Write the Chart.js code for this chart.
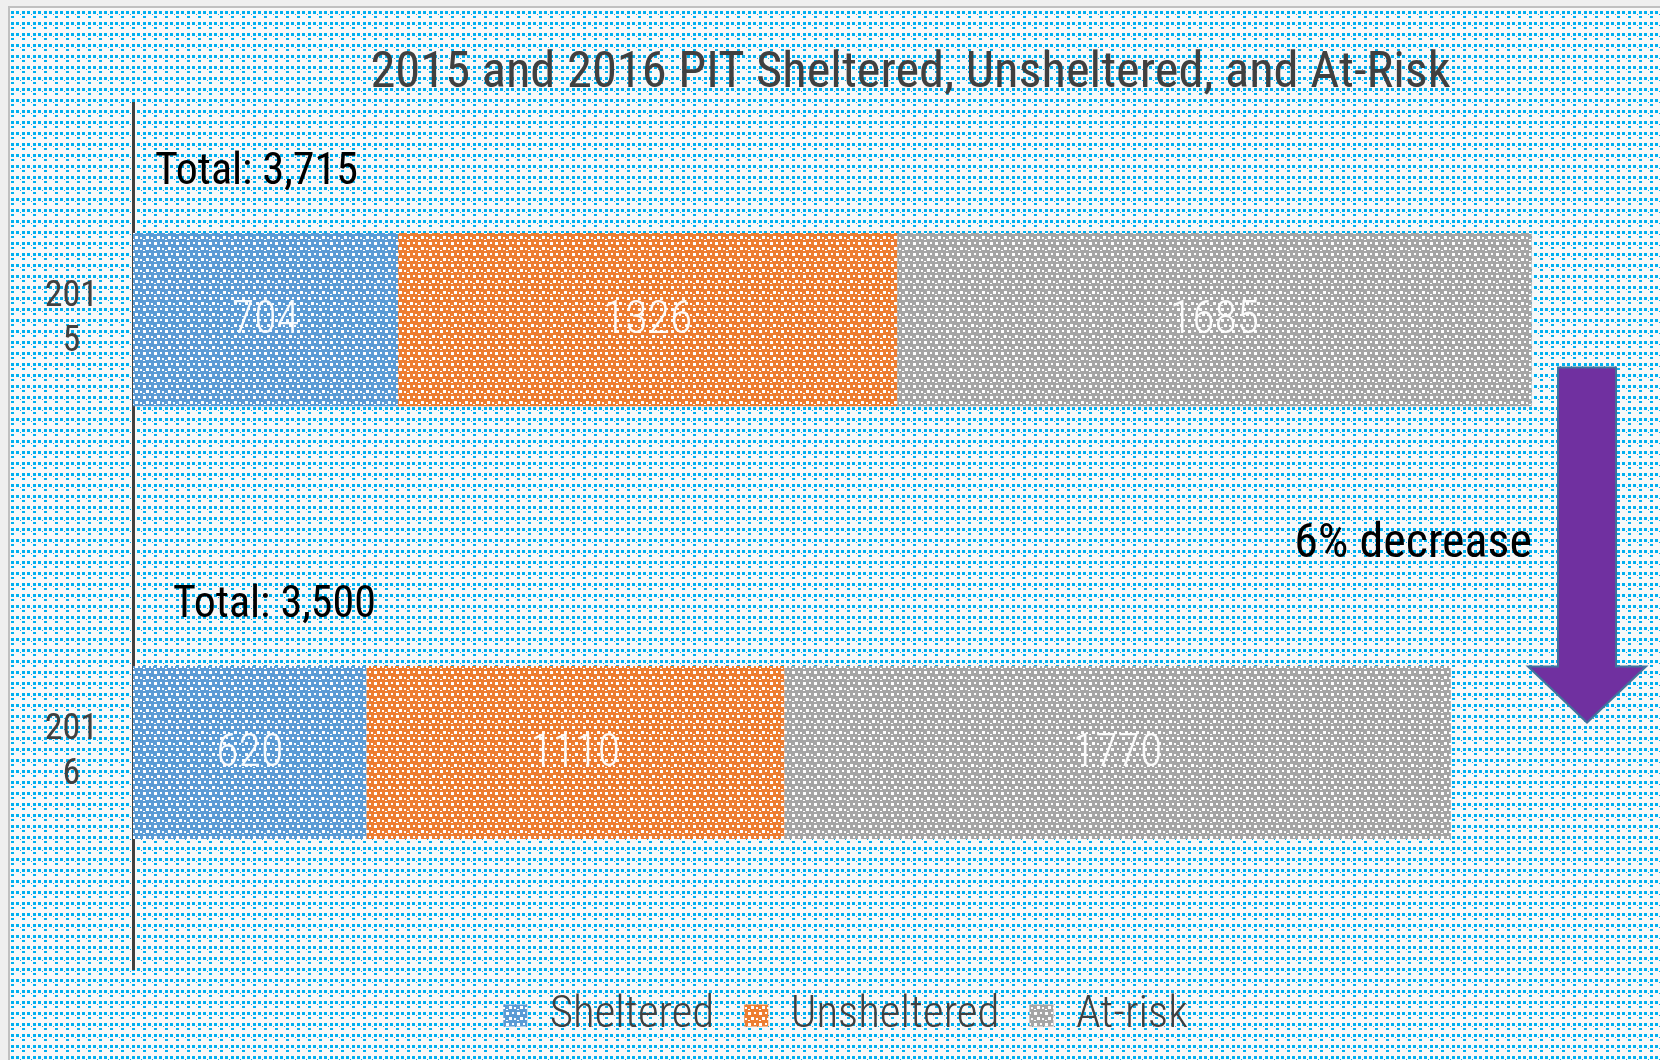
<!DOCTYPE html>
<html>
<head>
<meta charset="utf-8">
<script src="https://cdn.jsdelivr.net/npm/chart.js@4"></script>
<style>
html, body { margin: 0; padding: 0; background: #fff; }
</style>
</head>
<body>
<canvas id="myChart" width="1660" height="1060"></canvas>
<script>
// data
const years = [['201', '5'], ['201', '6']];
const sheltered = [704, 620];
const unsheltered = [1326, 1110];
const atRisk = [1685, 1770];
const seriesNames = ['Sheltered', 'Unsheltered', 'At-risk'];
const chartTitle = '2015 and 2016 PIT Sheltered, Unsheltered, and At-Risk';

const FONT = 'Roboto Condensed';
const totals = years.map((y, i) => sheltered[i] + unsheltered[i] + atRisk[i]);

// small repeating dot textures, like the office pattern fills
function dotPattern(base, dot, w, h, cells) {
    const c = document.createElement('canvas');
    c.width = w; c.height = h;
    const g = c.getContext('2d');
    g.fillStyle = base;
    g.fillRect(0, 0, w, h);
    g.fillStyle = dot;
    cells.forEach(([x, y, cw, ch]) => g.fillRect(x, y, cw, ch));
    return g.createPattern(c, 'repeat');
}
const barCells = [[0, 0, 3, 3], [6, 0, 2, 2], [3, 5, 3, 3], [8, 6, 2, 2], [0, 8, 2, 1]];
const bluePat = dotPattern('#5b9bd5', '#ffffff', 11, 11, barCells);
const orangePat = dotPattern('#ed7d31', '#ffffff', 11, 11, barCells);
const greyPat = dotPattern('#a5a5a5', '#ffffff', 11, 11, barCells);
const bgPat = dotPattern('#f8f8f8', '#00b0f0', 11, 11, [[0, 0, 3, 3], [5, 0, 3, 3], [0, 5, 3, 2], [9, 3, 1, 1]]);

const extras = {
    id: 'extras',
    afterLayout(chart) {
        // title and legend sit off-centre in the original
        chart.titleBlock.left += 86;
        chart.titleBlock.right += 86;
        chart.legend.left += 21;
        chart.legend.right += 21;
        chart.legend.top -= 6;
    },
    beforeDraw(chart) {
        const ctx = chart.ctx;
        ctx.save();
        ctx.fillStyle = '#efefef';
        ctx.fillRect(0, 0, chart.width, chart.height);
        ctx.fillStyle = bgPat;
        ctx.fillRect(10, 8, chart.width - 10, chart.height - 8);
        ctx.strokeStyle = '#c0c0c0';
        ctx.lineWidth = 2;
        ctx.strokeRect(9, 7, chart.width, chart.height);
        ctx.restore();
    },
    afterDatasetsDraw(chart) {
        const ctx = chart.ctx;
        const area = chart.chartArea;
        const yScale = chart.scales.y;
        ctx.save();
        ctx.textBaseline = 'middle';

        // segment values
        ctx.fillStyle = 'rgba(255,255,255,0.95)';
        ctx.textAlign = 'center';
        ctx.font = '300 46px "' + FONT + '"';
        chart.data.datasets.forEach((ds, di) => {
            chart.getDatasetMeta(di).data.forEach((bar, i) => {
                ctx.fillText(String(ds.data[i]), (bar.x + bar.base) / 2, bar.y + 2);
            });
        });

        // totals above each bar
        const totalShift = [22, 40];
        ctx.fillStyle = '#000';
        ctx.textAlign = 'left';
        ctx.font = '44px "' + FONT + '"';
        totals.forEach((t, i) => {
            ctx.fillText('Total: ' + t.toLocaleString('en-US'), area.left + totalShift[i], yScale.getPixelForValue(i) - 147);
        });

        // change arrow
        const y0 = yScale.getPixelForValue(0);
        const y1 = yScale.getPixelForValue(1);
        const cx = area.right - 52;
        const top = y0 + 48, neck = y1 - 86, tip = y1 - 30;
        ctx.beginPath();
        ctx.moveTo(cx - 29, top);
        ctx.lineTo(cx + 29, top);
        ctx.lineTo(cx + 29, neck);
        ctx.lineTo(cx + 59, neck);
        ctx.lineTo(cx, tip);
        ctx.lineTo(cx - 59, neck);
        ctx.lineTo(cx - 29, neck);
        ctx.closePath();
        ctx.fillStyle = '#7030a0';
        ctx.fill();
        ctx.strokeStyle = '#41719c';
        ctx.lineWidth = 2;
        ctx.stroke();

        const pct = Math.round((totals[0] - totals[1]) / totals[0] * 100);
        ctx.fillStyle = '#000';
        ctx.textAlign = 'right';
        ctx.font = '48px "' + FONT + '"';
        ctx.fillText(pct + '% decrease', area.right - 107, y1 - 208);
        ctx.restore();
    }
};

const ctx = document.getElementById('myChart');

new Chart(ctx, {
    type: 'bar',
    data: {
        labels: years,
        datasets: [
            { label: seriesNames[0], data: sheltered, backgroundColor: bluePat },
            { label: seriesNames[1], data: unsheltered, backgroundColor: orangePat },
            { label: seriesNames[2], data: atRisk, backgroundColor: greyPat }
        ]
    },
    options: {
        indexAxis: 'y',
        responsive: false,
        animation: false,
        barPercentage: 0.4,
        categoryPercentage: 1,
        borderWidth: 0,
        layout: { padding: { left: 10, right: 21, top: 0, bottom: 6 } },
        scales: {
            x: { stacked: true, min: 0, max: 4000, display: false },
            y: {
                stacked: true,
                grid: { display: false, drawTicks: false },
                border: { display: true, color: '#404040', width: 3 },
                ticks: {
                    color: '#404040',
                    crossAlign: 'center',
                    padding: 35,
                    font: { family: FONT, size: 36, lineHeight: 1.25 }
                },
                afterFit(scale) { scale.width = 123; }
            }
        },
        plugins: {
            title: {
                display: true,
                text: chartTitle,
                color: '#404040',
                font: { family: FONT, size: 50.5, weight: 'normal', lineHeight: 1.15 },
                padding: { top: 45, bottom: 0 }
            },
            legend: {
                position: 'bottom',
                labels: {
                    color: '#404040',
                    boxWidth: 24,
                    boxHeight: 22,
                    padding: 30,
                    font: { family: FONT, size: 45, weight: '300' }
                }
            },
            tooltip: { enabled: false }
        }
    },
    plugins: [extras]
});
</script>
</body>
</html>
